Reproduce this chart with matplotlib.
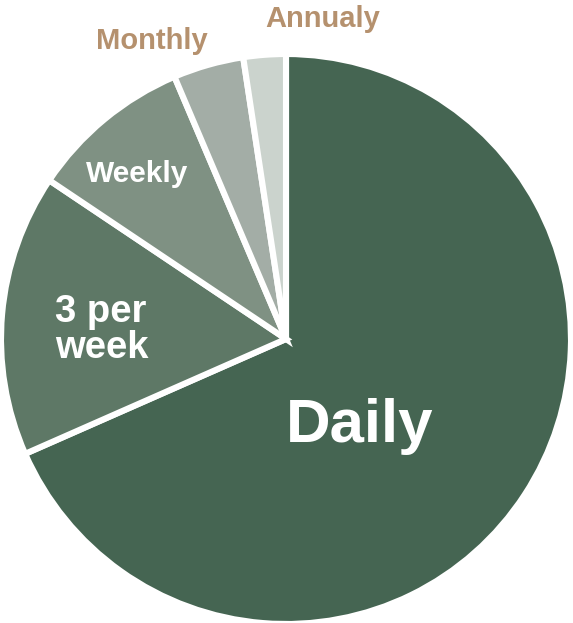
import matplotlib.pyplot as plt

# Share of respondents by frequency
labels = ["Daily", "3 per\nweek", "Weekly", "Monthly", "Annualy"]
shares = [68.4, 16.0, 9.2, 4.0, 2.4]
colors = ["#456552", "#5e7866", "#7f9183", "#a3ada6", "#cbd3cd"]

W, H = 573, 623
cx, cy, r = 286, 339, 285  # pie centre and radius in pixels


def px(x, y):
    # pixel position -> data coords (pie has radius 1)
    return (x - cx) / r, (cy - y) / r


fig = plt.figure(figsize=(W / 100, H / 100), dpi=100)
ax = fig.add_axes([(cx - r) / W, (H - cy - r) / H, 2 * r / W, 2 * r / H])

ax.pie(shares, colors=colors, startangle=90, counterclock=False, radius=1,
       wedgeprops=dict(edgecolor="white", linewidth=4.4))

# pie() resets the limits, so fix them afterwards
ax.set_xlim(-1, 1)
ax.set_ylim(-1, 1)
ax.set_aspect("equal")
ax.axis("off")

font = "Liberation Sans"
white = "white"
tan = "#b5916e"

ax.text(*px(360, 442), labels[0], color=white, fontsize=44.5, fontweight="bold",
        family=font, ha="center", va="baseline")
ax.text(*px(55, 322), "3 per", color=white, fontsize=27.5, fontweight="bold",
        family=font, ha="left", va="baseline")
ax.text(*px(55, 358), "week", color=white, fontsize=27.5, fontweight="bold",
        family=font, ha="left", va="baseline")
ax.text(*px(137, 182), labels[2], color=white, fontsize=21.5, fontweight="bold",
        family=font, ha="center", va="baseline")
ax.text(*px(152, 49), labels[3], color=tan, fontsize=21, fontweight="bold",
        family=font, ha="center", va="baseline", clip_on=False)
ax.text(*px(323, 27), labels[4], color=tan, fontsize=21, fontweight="bold",
        family=font, ha="center", va="baseline", clip_on=False)

fig.savefig("out.png", dpi=100)
